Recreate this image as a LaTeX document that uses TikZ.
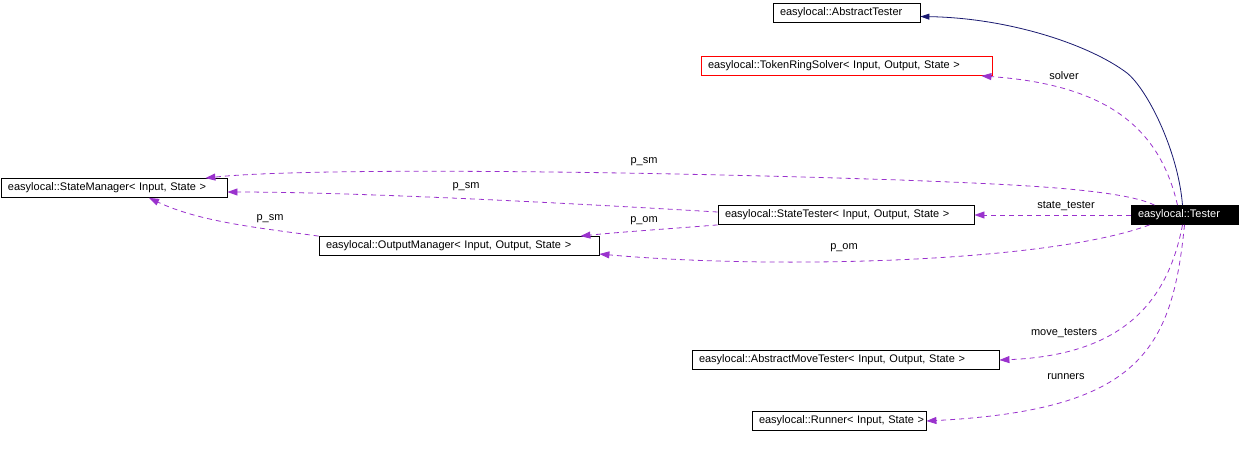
\documentclass[tikz,border=0pt]{standalone}
\usepackage{fontspec}
\setmainfont{Liberation Sans}
\usepackage{xcolor}
\usepackage{tikz}
\usetikzlibrary{arrows.meta}

\definecolor{usecol}{HTML}{9A32CD}
\definecolor{inhcol}{HTML}{191970}

\begin{document}
\begin{tikzpicture}[x=1pt,y=-1pt,
    font=\fontsize{11}{12}\selectfont,
    cls/.style={draw=black,line width=0.8pt,fill=white,inner xsep=7pt,inner ysep=0pt,
      minimum height=19pt,align=left},
    uses/.style={usecol,line width=0.8pt,dash pattern=on 5pt off 4pt,
      -{Triangle[length=10pt,width=7pt]}},
    inherits/.style={inhcol,line width=0.8pt,-{Triangle[length=9pt,width=6pt]}},
    lbl/.style={inner sep=1pt}]
  \useasboundingbox (0,0) rectangle (1239,448);
  % classes
  \node[cls,text width=133] (abstester) at (846.5,12.5) {\mbox{easylocal::AbstractTester}};
  \node[cls,draw=red,text width=277] (solver) at (846.5,66) {\mbox{easylocal::TokenRingSolver< Input, Output, State >}};
  \node[cls,text width=212] (statemgr) at (114,188) {\mbox{easylocal::StateManager< Input, State >}};
  \node[cls,text width=242] (statetester) at (846,215) {\mbox{easylocal::StateTester< Input, Output, State >}};
  \node[cls,fill=black,text=white,text width=93] (tester) at (1184.5,215) {\mbox{easylocal::Tester}};
  \node[cls,text width=266] (outmgr) at (459,246) {\mbox{easylocal::OutputManager< Input, Output, State >}};
  \node[cls,text width=293] (movetester) at (845.5,360) {\mbox{easylocal::AbstractMoveTester< Input, Output, State >}};
  \node[cls,text width=160] (runner) at (839,421) {\mbox{easylocal::Runner< Input, State >}};
  % inheritance
  \draw[inherits] ([xshift=-2]tester.north) .. controls (1178,150) and (1147,89) .. (1127,73)
    .. controls (1090,45) and (1010,18) .. ([yshift=-4]abstester.east);
  % members
  \draw[uses] ([xshift=-7]tester.north) .. controls (1160,130) and (1110,85) .. ([xshift=-11]solver.south east);
  \draw[uses] ([xshift=-30]tester.north) .. controls (1120,188) and (1000,184) .. (900,180)
    .. controls (600,170) and (300,168) .. ([xshift=-22]statemgr.north east);
  \draw[uses] ([yshift=3]statetester.west) .. controls (550,202) and (350,192) .. ([yshift=-4]statemgr.east);
  \draw[uses] (outmgr.north west) .. controls (260,228) and (200,222) .. ([xshift=35]statemgr.south);
  \draw[uses] (statetester.south west) .. controls (680,228) and (620,232) .. ([xshift=-19]outmgr.north east);
  \draw[uses] ([xshift=-35]tester.south) .. controls (1050,262) and (780,270) .. ([yshift=-8]outmgr.east);
  \draw[uses] (tester.west) -- (statetester.east);
  \draw[uses] ([xshift=-2]tester.south) .. controls (1168,300) and (1125,355) .. (movetester.east);
  \draw[uses] (tester.south) .. controls (1172,350) and (1140,410) .. (runner.east);
  % member names
  \node[lbl] (lsolver) at (1064,76) {solver};
  \node[lbl] (lsm1) at (644,162) {p\_sm};
  \node[lbl] (lsm2) at (466,187) {p\_sm};
  \node[lbl] (lsm3) at (270,219) {p\_sm};
  \node[lbl] (lom1) at (644,221) {p\_om};
  \node[lbl] (lom2) at (844,248) {p\_om};
  \node[lbl] (lst) at (1066,206) {state\_tester};
  \node[lbl] (lmt) at (1064,333) {move\_testers};
  \node[lbl] (lrun) at (1066,377) {runners};
\end{tikzpicture}
\end{document}
